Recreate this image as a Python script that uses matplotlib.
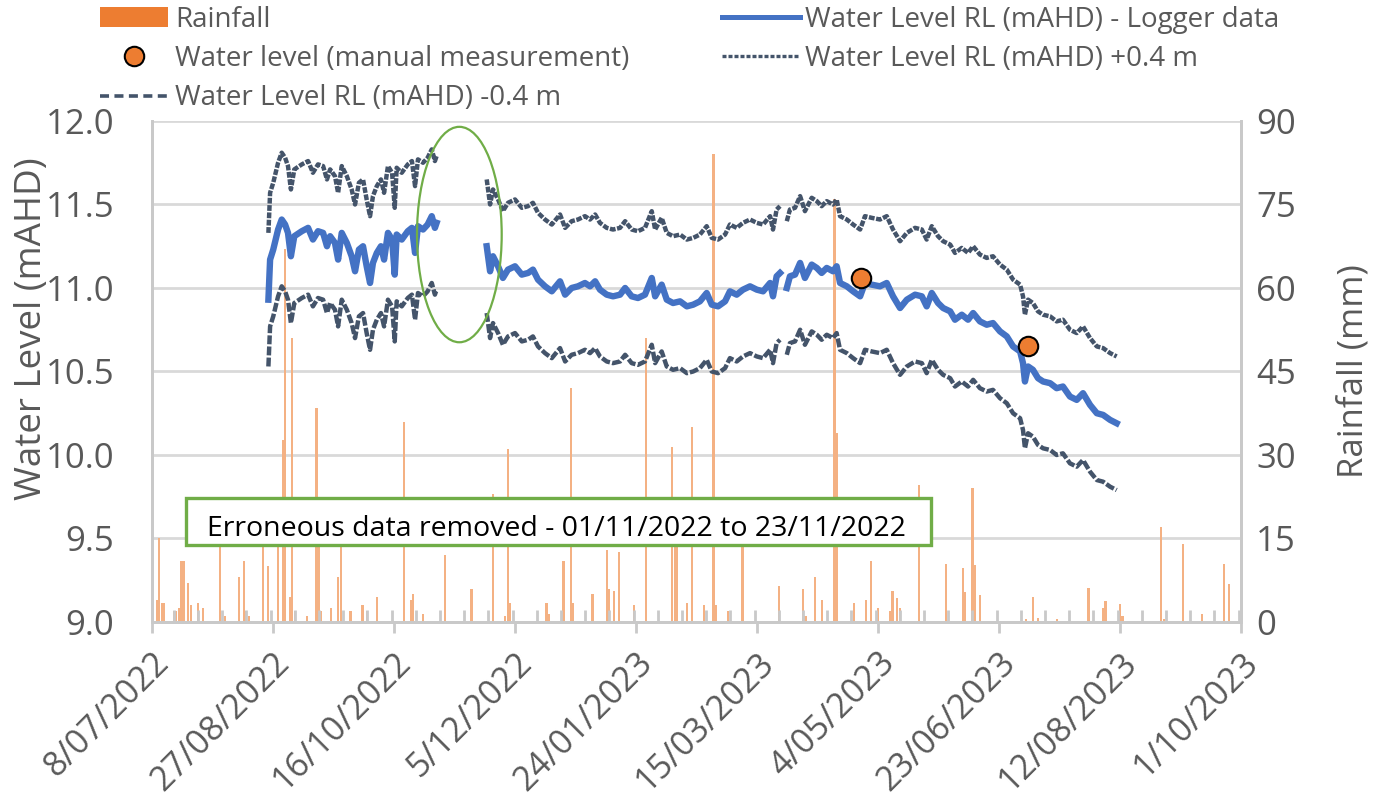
import matplotlib
matplotlib.use('Agg')
import matplotlib.pyplot as plt
import matplotlib.dates as mdates
from matplotlib.patches import Ellipse, Rectangle, Patch
from matplotlib.lines import Line2D
from matplotlib.ticker import MultipleLocator, FixedLocator
import numpy as np
from datetime import datetime, timedelta

plt.rcParams['font.family'] = ['Open Sans', 'DejaVu Sans']

start = datetime(2022, 7, 8)

# logger water level, x given as days since 8/07/2022 (nan = no data)
logger_day = [48.1, 48.8, 50.1, 52.1, 53.6, 55.0, 56.2, 57.4, 58.8, 61.9,
              64.5, 66.5, 68.6, 70.7, 72.3, 73.6, 75.6, 76.9, 78.4, 80.5,
              82.5, 83.9, 85.5, 87.2, 88.7, 90.1, 91.3, 92.9, 94.6, 95.9,
              97.5, 99.2, 100.3, 101.1, 103.2, 105.7, 107.4, 108.7, 109.9, 112.0,
              113.9, 115.6, 116.9, 117.6,
              127.0,
              138.3, 139.7, 140.9, 143.0, 145.0, 147.1, 150.0, 152.8, 155.4, 157.4,
              159.5, 162.4, 165.2, 168.6, 170.7, 173.4, 176.0, 178.9, 181.0, 183.1,
              185.1, 187.9, 190.5, 193.4, 195.5, 198.2, 200.8, 203.7, 206.5, 207.9,
              210.6, 212.7, 215.3, 218.2, 221.0, 223.6, 226.4, 229.2, 231.3, 233.9,
              236.8, 238.8, 241.6, 244.2, 247.1, 249.9, 252.5, 255.4, 256.6, 258.1,
              259.5,
              261.0,
              262.3, 263.6, 265.7, 267.8, 269.8, 272.6, 274.7, 276.7, 278.8, 281.4,
              282.9, 284.3, 287.1, 289.7, 292.6,
              294.6, 297.4, 300.8, 303.6, 306.2, 309.1, 311.9, 315.3, 318.1, 320.1,
              322.2, 324.8, 326.9, 329.8, 331.8, 334.6, 337.2, 339.3, 342.1, 344.9,
              347.5, 350.4, 353.2, 355.8, 358.7, 359.9, 360.7, 362.0, 364.0, 366.1,
              368.2, 371.1, 373.8, 376.4, 379.3, 382.1, 384.7, 387.6, 390.4, 393.0,
              395.9, 398.6]
logger_wl = [10.93, 11.17, 11.23, 11.35, 11.41, 11.38, 11.33, 11.19, 11.31, 11.34,
             11.36, 11.29, 11.34, 11.33, 11.25, 11.31, 11.27, 11.17, 11.33, 11.27,
             11.19, 11.10, 11.23, 11.25, 11.13, 11.03, 11.15, 11.21, 11.25, 11.17,
             11.33, 11.29, 11.08, 11.32, 11.29, 11.34, 11.36, 11.21, 11.37, 11.35,
             11.38, 11.43, 11.36, 11.39,
             np.nan,
             11.25, 11.10, 11.19, 11.13, 11.06, 11.11, 11.13, 11.08, 11.09, 11.11,
             11.05, 11.01, 10.98, 11.04, 10.96, 11.00, 11.01, 11.03, 11.01, 11.04,
             10.99, 10.96, 10.95, 10.96, 11.00, 10.95, 10.94, 10.96, 11.06, 10.95,
             11.02, 10.93, 10.91, 10.92, 10.89, 10.90, 10.92, 10.97, 10.90, 10.89,
             10.92, 10.98, 10.96, 10.99, 11.01, 10.99, 10.98, 11.03, 10.95, 11.07,
             11.09,
             np.nan,
             11.00, 11.07, 11.08, 11.15, 11.06, 11.14, 11.12, 11.09, 11.12, 11.10,
             11.13, 11.03, 11.01, 10.98, 10.95,
             11.03, 11.02, 11.01, 11.03, 10.95, 10.88, 10.93, 10.96, 10.95, 10.89,
             10.97, 10.91, 10.88, 10.86, 10.81, 10.84, 10.81, 10.85, 10.80, 10.78,
             10.79, 10.74, 10.71, 10.65, 10.62, 10.55, 10.44, 10.53, 10.51, 10.46,
             10.44, 10.43, 10.40, 10.41, 10.35, 10.33, 10.37, 10.30, 10.25, 10.24,
             10.21, 10.19]

# manual measurements
manual_day = [293, 362]
manual_wl = [11.06, 10.65]

# daily rainfall (mm)
rain_day = [2, 3, 4, 5, 9, 10, 11, 12, 13, 15, 16, 19, 21, 28, 30, 36, 38, 39, 40, 46,
            48, 52, 54, 55, 57, 58, 59, 64, 68, 69, 70, 74, 77, 78, 82, 87, 89, 93, 104, 107,
            108, 112, 121, 132, 141, 146, 147, 148, 163, 164, 170, 173, 174, 182, 188, 189, 191, 193, 199, 204,
            215, 216, 217, 221, 223, 228, 232, 233, 238, 244, 259, 269, 270, 274, 277, 282, 283, 290, 295, 297,
            300, 305, 306, 308, 309, 317, 328, 335, 336, 339, 340, 342, 361, 364, 366, 374, 387, 393, 394, 400,
            401, 417, 418, 426, 434, 443, 445]
rain_mm = [4, 15, 3.5, 3.5, 2, 2, 2.5, 11, 11, 7, 3, 3.5, 2.5, 16, 1, 8, 11, 2, 1, 17,
           10, 18, 32.7, 67, 4.5, 51, 2, 1, 38.4, 16, 2, 2.5, 8, 15, 2, 3, 2, 4.5, 36, 4,
           5, 1.5, 12, 6, 23, 1, 31, 3.5, 3.5, 1.5, 11, 42, 3.5, 5, 13, 6, 5.5, 12.5, 3, 51,
           31.5, 18, 18, 3.5, 35, 3, 84, 3, 2, 14, 6.5, 6, 1, 8, 4, 76, 34, 3.5, 4, 11,
           2.5, 2, 5.6, 4.3, 2.5, 24.6, 10.4, 9.7, 5.4, 24, 10.2, 4.9, 0.5, 4.5, 0.8, 0.5, 6.1, 2.6, 3.8, 3.3,
           1, 17, 0.5, 14, 1.5, 10.4, 6.8]

gap_start = datetime(2022, 11, 1)
gap_end = datetime(2022, 11, 23)
end = datetime(2023, 10, 1)
tick_step = 50

t0 = mdates.date2num(start)
lx = t0 + np.array(logger_day)
wl = np.array(logger_wl)
rx = t0 + np.array(rain_day)
mx = t0 + np.array(manual_day)

grey = '#595959'
blue = '#4472C4'
slate = '#44546A'
orange = '#ED7D31'
green = '#70AD47'
axcol = '#C9C9C9'

fig = plt.figure(figsize=(13.73, 8.06), dpi=100)
ax = fig.add_axes([0.1107, 0.2283, 0.7932, 0.6216])
ax2 = ax.twinx()
ax.set_zorder(ax2.get_zorder() + 1)
ax.patch.set_visible(False)

# rainfall bars (secondary axis, behind the lines)
ax2.bar(rx, rain_mm, width=0.9, color='#F4B183', zorder=2)
ax2.set_ylim(0, 90)
ax2.yaxis.set_major_locator(MultipleLocator(15))
ax2.grid(axis='y', color='#D9D9D9', linewidth=2, zorder=0)
ax2.set_axisbelow(True)

ax.plot(lx, wl + 0.4, color=slate, lw=3.2, ls=(0, (1.3, 0.35)))
ax.plot(lx, wl - 0.4, color=slate, lw=3.2, ls=(0, (2.0, 0.5)))
ax.plot(lx, wl, color=blue, lw=4.6)
ax.plot(mx, manual_wl, 'o', ms=14, mfc=orange, mec='black', mew=1.5, zorder=5)

ax.set_ylim(9.0, 12.0)
ax.yaxis.set_major_locator(MultipleLocator(0.5))
ax.yaxis.set_major_formatter(matplotlib.ticker.FormatStrFormatter('%.1f'))
ax.set_xlim(t0, mdates.date2num(end))

# annotation of the removed data
gmid = mdates.date2num(gap_start + (gap_end - gap_start) / 2)
ax.add_patch(Ellipse((gmid, 11.32), 35, 1.29, fill=False, ec=green, lw=1.6, zorder=6))
ax.add_patch(Rectangle((0.0312, 0.1537), 0.6841, 0.0938, transform=ax.transAxes,
                       fc='white', ec=green, lw=2.4, zorder=7))
ax.text(0.371, 0.185, 'Erroneous data removed - 01/11/2022 to 23/11/2022',
        transform=ax.transAxes, ha='center', va='center', fontsize=20.5,
        color='black', zorder=8)

# x axis ticks
major = [t0 + tick_step * i for i in range(10)]
ax.xaxis.set_major_locator(FixedLocator(major))
ax.xaxis.set_minor_locator(MultipleLocator(10))
ax.set_xticklabels([f'{d.day}/{d.month:02d}/{d.year}' for d in mdates.num2date(major)],
                   rotation=45, ha='right', rotation_mode='anchor')
ax.tick_params(axis='x', which='major', direction='out', length=8, width=2,
               color=axcol, labelsize=24.5, labelcolor=grey, pad=9)
ax.tick_params(axis='x', which='minor', direction='in', length=9, width=2, color=axcol)
ax.tick_params(axis='y', length=0, labelsize=25, labelcolor=grey, pad=27)
ax2.tick_params(axis='y', length=0, labelsize=25, labelcolor=grey, pad=11)

for a in (ax, ax2):
    a.spines['top'].set_visible(False)
    for s in ('left', 'right', 'bottom'):
        a.spines[s].set_color(axcol)
        a.spines[s].set_linewidth(2)

ax.set_ylabel('Water Level (mAHD)', fontsize=26.5, color=grey)
ax.yaxis.set_label_coords(-0.094, 0.585)
ax2.set_ylabel('Rainfall (mm)', fontsize=25, color=grey, rotation=90)
ax2.yaxis.set_label_coords(1.088, 0.5)

# legends
h_rain = Patch(facecolor=orange)
h_man = Line2D([], [], ls='none', marker='o', ms=14, mfc=orange, mec='black', mew=1.5)
h_lo = Line2D([], [], color=slate, lw=2.6, ls=(0, (2.5, 1.5)))
h_log = Line2D([], [], color=blue, lw=3.6)
h_hi = Line2D([], [], color=slate, lw=2.4, ls=(0, (1.2, 0.6)))
fig.legend([h_rain, h_man, h_lo],
           ['Rainfall', 'Water level (manual measurement)', 'Water Level RL (mAHD) -0.4 m'],
           loc='upper left', bbox_to_anchor=(0.0728, 0.993), frameon=False, fontsize=20,
           labelcolor=grey, handlelength=2.45, handletextpad=0.25, labelspacing=0.41,
           borderpad=0, borderaxespad=0)
fig.legend([h_log, h_hi],
           ['Water Level RL (mAHD) - Logger data', 'Water Level RL (mAHD) +0.4 m'],
           loc='upper left', bbox_to_anchor=(0.526, 0.993), frameon=False, fontsize=20,
           labelcolor=grey, handlelength=2.8, handletextpad=0.18, labelspacing=0.41,
           borderpad=0, borderaxespad=0)

fig.savefig('out.png', dpi=100)
